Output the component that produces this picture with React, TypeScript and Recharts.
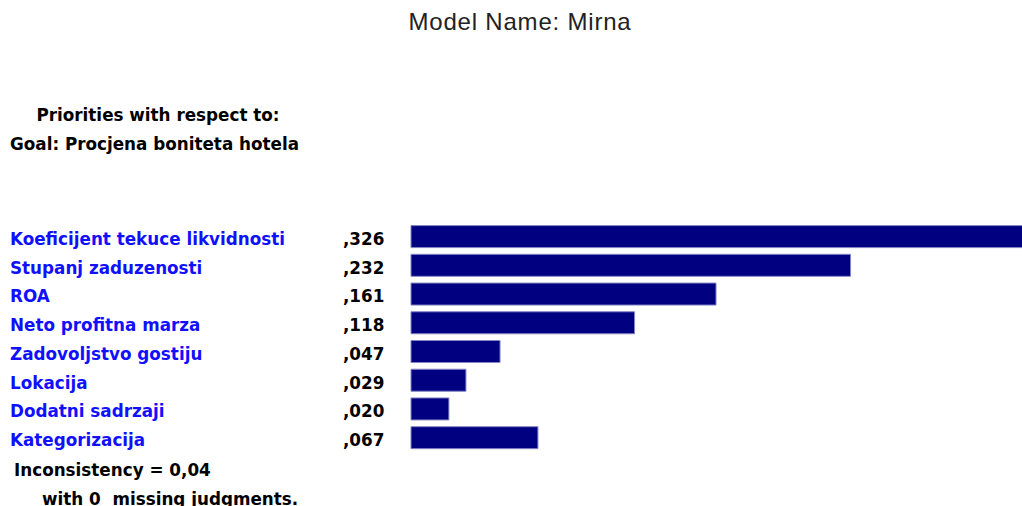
import React from "react";
import { BarChart, Bar, XAxis, YAxis } from "recharts";

const criteria = [
  "Koeficijent tekuce likvidnosti",
  "Stupanj zaduzenosti",
  "ROA",
  "Neto profitna marza",
  "Zadovoljstvo gostiju",
  "Lokacija",
  "Dodatni sadrzaji",
  "Kategorizacija",
];
const priorities = [0.326, 0.232, 0.161, 0.118, 0.047, 0.029, 0.02, 0.067];
const priorityLabels = [",326", ",232", ",161", ",118", ",047", ",029", ",020", ",067"];

const data = criteria.map((name, i) => ({ name, value: priorities[i], label: priorityLabels[i] }));

const FONT = "Tahoma, 'DejaVu Sans', Verdana, sans-serif";
const FS = 16.8;

const CriterionTick = (props: any) => {
  const { y, payload, index } = props;
  return (
    <g>
      <text x={10} y={y} dy={8} fill="#1010ff" fontFamily={FONT} fontWeight="bold" fontSize={FS}>
        {payload.value}
      </text>
      <text x={343} y={y} dy={8} fill="#000" fontFamily={FONT} fontWeight="bold" fontSize={FS}>
        {data[index]?.label}
      </text>
    </g>
  );
};

export default function App() {
  return (
    <div
      style={{
        position: "absolute",
        left: 0,
        top: 0,
        width: 1022,
        height: 506,
        overflow: "hidden",
        background: "#fff",
      }}
    >
      <BarChart
        width={1040}
        height={506}
        data={data}
        layout="vertical"
        barSize={22}
        margin={{ top: 222.6, bottom: 53.6, left: 0, right: 0 }}
      >
        <XAxis type="number" domain={[0, 0.332]} hide />
        <YAxis
          type="category"
          dataKey="name"
          width={411}
          axisLine={false}
          tickLine={false}
          tick={<CriterionTick />}
          interval={0}
        />
        <Bar dataKey="value" fill="#000080" stroke="#8585c4" strokeWidth={1} isAnimationActive={false} />
      </BarChart>

      {/* header and footer texts */}
      <svg width={1022} height={506} style={{ position: "absolute", left: 0, top: 0, pointerEvents: "none" }}>
        <text
          x={520}
          y={30}
          textAnchor="middle"
          fontFamily="'Liberation Sans', Arial, sans-serif"
          fontSize={24}
          letterSpacing={0.8}
          fill="#222"
        >
          Model Name: Mirna
        </text>
        <g fontFamily={FONT} fontWeight="bold" fontSize={FS} fill="#000">
          <text x={158} y={121} textAnchor="middle">Priorities with respect to:</text>
          <text x={10} y={150}>Goal: Procjena boniteta hotela</text>
          <text x={14} y={476}>Inconsistency = 0,04</text>
          <text x={42} y={505} xmlSpace="preserve">with 0  missing judgments.</text>
        </g>
      </svg>
    </div>
  );
}
